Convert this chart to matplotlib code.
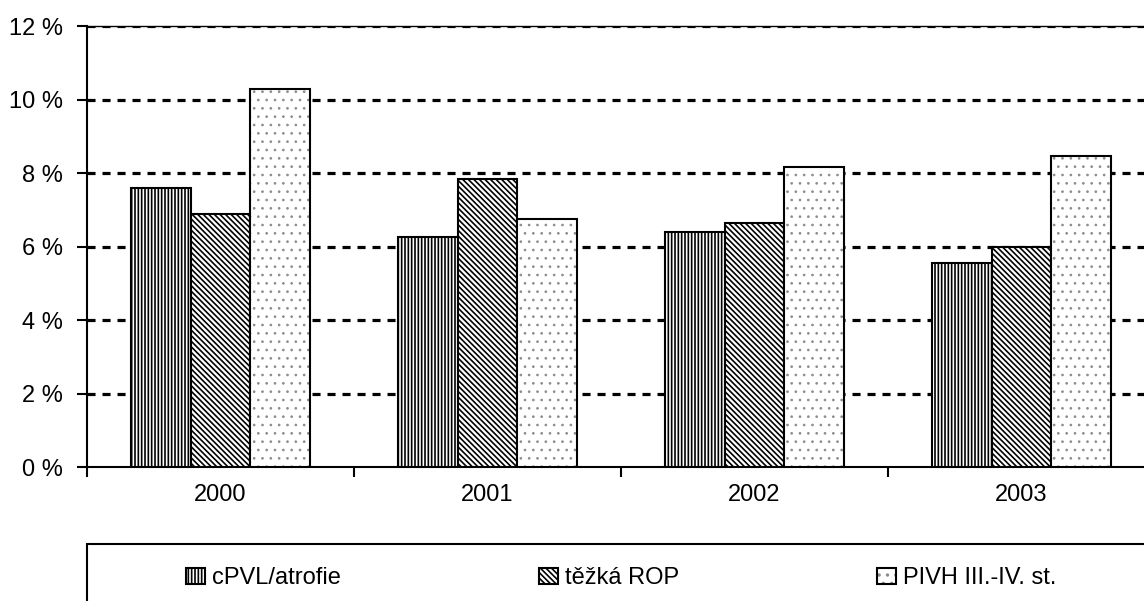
import matplotlib
matplotlib.use("Agg")
import matplotlib.pyplot as plt
from matplotlib.patches import Rectangle
from matplotlib.legend_handler import HandlerTuple
from matplotlib import font_manager

years = ["2000", "2001", "2002", "2003"]
series_names = ["cPVL/atrofie", "těžká ROP", "PIVH III.-IV. st."]
cpvl = [7.59, 6.27, 6.41, 5.56]
tezka = [6.89, 7.85, 6.64, 6.00]
pivh = [10.30, 6.76, 8.16, 8.46]
yticks = [0, 2, 4, 6, 8, 10, 12]
ytick_labels = ["0 %", "2 %", "4 %", "6 %", "8 %", "10 %", "12 %"]

names = {f.name for f in font_manager.fontManager.ttflist}
fam = [f for f in ["Liberation Sans Narrow", "Liberation Sans", "DejaVu Sans"] if f in names]
plt.rcParams['font.family'] = fam
plt.rcParams['hatch.linewidth'] = 1.2
plt.rcParams['lines.scale_dashes'] = False

FS = 17
fig = plt.figure(figsize=(11.44, 6.01), dpi=100)
W, H = 1144, 601
ax = fig.add_axes([87 / W, (H - 467) / H, (1155 - 87) / W, (467 - 26.3) / H])

x = list(range(len(years)))
bw = 0.2236
xs0 = [i - bw for i in x]
xs1 = x
xs2 = [i + bw for i in x]

b0 = ax.bar(xs0, cpvl, bw, facecolor="white", edgecolor="black", hatch="|||||", linewidth=1.5, zorder=3)
b1 = ax.bar(xs1, tezka, bw, facecolor="white", edgecolor="black", hatch="\\" * 6, linewidth=1.5, zorder=3)
with plt.rc_context({'hatch.linewidth': 0.7}):
    b2h = ax.bar(xs2, pivh, bw, facecolor="white", edgecolor="#8c8c8c", hatch="..", linewidth=0, zorder=3)
b2e = ax.bar(xs2, pivh, bw, facecolor="none", edgecolor="black", linewidth=1.5, zorder=4)

ax.set_xlim(-0.5, 3.5)
ax.set_ylim(0, 12)
ax.set_yticks(yticks)
ax.set_yticklabels(ytick_labels, fontsize=FS)
ax.set_xticks([-0.5, 0.5, 1.5, 2.5, 3.5])
ax.set_xticklabels([])
ax.set_xticks(x, minor=True)
ax.set_xticklabels(years, minor=True, fontsize=FS)
ax.tick_params(axis="x", which="major", direction="out", length=7.2, width=1.5)
ax.tick_params(axis="x", which="minor", length=0, pad=12)
ax.tick_params(axis="y", direction="out", length=7.2, width=1.5, pad=10)

for y in yticks[1:]:
    ax.axhline(y, color="black", linewidth=2.3, dashes=(5.8, 5.0), zorder=2)

for s in ["left", "bottom"]:
    ax.spines[s].set_linewidth(1.5)
ax.spines["top"].set_linewidth(1.0)
ax.spines["right"].set_visible(False)

# legend frame
fig.patches.append(Rectangle((87 / W, -0.05), 1.2, (H - 544) / H + 0.05,
                             transform=fig.transFigure, facecolor="none",
                             edgecolor="black", linewidth=1.5, clip_on=False))

fs_px = FS * 100 / 72
leg = fig.legend([b0, b1, (b2h, b2e)], series_names, ncol=3, frameon=False,
                 loc="center left", bbox_to_anchor=(186 / W, (H - 578) / H),
                 fontsize=FS, borderpad=0, borderaxespad=0,
                 handlelength=19 / fs_px, handleheight=16 / fs_px,
                 handletextpad=7 / fs_px, columnspacing=198 / fs_px,
                 handler_map={tuple: HandlerTuple(ndivide=1, pad=0)})

fig.savefig("out.png", dpi=100)
